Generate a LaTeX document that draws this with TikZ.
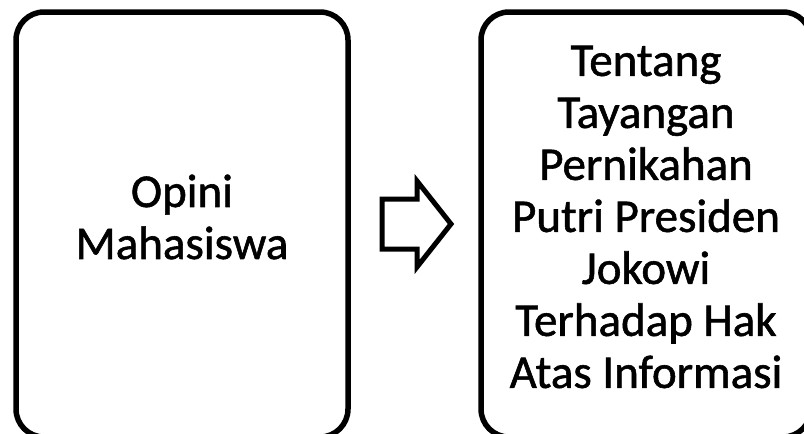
\documentclass[tikz,border=0pt]{standalone}
\usepackage{fontspec}
\setmainfont{Carlito}[FakeBold=1.2]
\newfontfamily\boxfont{Carlito}[FakeBold=1.2]
\tikzset{
  boxnode/.style={draw=black, line width=5.5pt, rounded corners=28pt, rectangle, inner sep=0pt},
  boxtext/.style={align=center, inner sep=0pt, font=\boxfont\fontsize{47pt}{52pt}\selectfont},
  arrowshape/.style={draw=black, line width=5pt, miter limit=10, fill=white}
}
\begin{document}
\begin{tikzpicture}[x=1pt,y=-1pt]
\useasboundingbox (0,0) rectangle (804,434);
\clip (0,0) rectangle (804,434);
\fill[white] (0,0) rectangle (804,434);
\node[boxnode, minimum width=332pt, minimum height=425pt] (left) at (182,224.5) {};
\node[boxnode, minimum width=330pt, minimum height=425pt] (right) at (646,224.5) {};
\node[boxtext] (lefttext) at ([yshift=7.5pt]left.center) {Opini\\Mahasiswa};
\node[boxtext] (righttext) at ([yshift=7.5pt]right.center) {Tentang\\Tayangan\\Pernikahan\\Putri Presiden\\Jokowi\\Terhadap Hak\\Atas Informasi};
\draw[arrowshape] (382,199) -- (417,199) -- (417,181) -- (451,224) -- (417,267) -- (417,249) -- (382,249) -- cycle;
\end{tikzpicture}
\end{document}
